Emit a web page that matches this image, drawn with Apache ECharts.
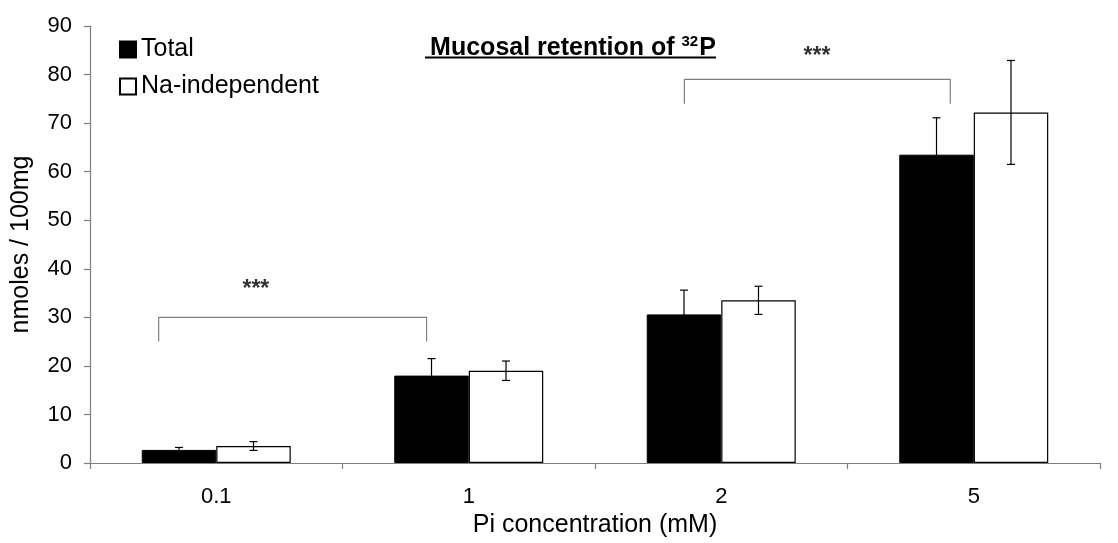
<!DOCTYPE html>
<html>
<head>
<meta charset="utf-8">
<script src="https://cdn.jsdelivr.net/npm/echarts@6/dist/echarts.min.js"></script>
<style>
html,body{margin:0;padding:0;background:#fff;}
#chart{width:1118px;height:543px;}
</style>
</head>
<body>
<div id="chart"></div>
<script>
// ---- data ----
const categories = ['0.1', '1', '2', '5'];
const totalValues = [2.7, 18.0, 30.6, 63.5];
const totalErrors = [0.5, 3.5, 5.0, 7.6];
const naValues = [3.5, 19.0, 33.5, 72.2];
const naErrors = [0.9, 2.0, 2.9, 10.7];
const seriesNames = ['Total', 'Na-independent'];
const yTicks = [0, 10, 20, 30, 40, 50, 60, 70, 80, 90];
// significance brackets: [x, y] in category units / data units
const bracket1 = [[-0.228, 25], [-0.228, 30], [0.833, 30], [0.833, 25]];
const bracket2 = [[1.854, 74], [1.854, 79], [2.907, 79], [2.907, 74]];
const starPoints = [[0.157, 35.8], [2.379, 83.6]];

const FONT = '"Liberation Sans", Arial, sans-serif';
const AXIS_COLOR = '#7f7f7f';
const BAR_GAP_CAT = 0.41;

const chart = echarts.init(document.getElementById('chart'), null, {renderer: 'canvas'});

function errorRender(seriesIdx, values, errors) {
  return function (params, api) {
    const i = api.value(0);
    const v = values[i], e = errors[i];
    const band = api.size([1, 0])[0];
    const barW = band * (1 - BAR_GAP_CAT) / 2;
    const c = api.coord([i, v]);
    const x = c[0] + (seriesIdx - 0.5) * barW;
    const top = api.coord([i, v + e])[1];
    const bot = api.coord([i, v - e])[1];
    const hw = 4;
    const st = {stroke: '#000', lineWidth: 1.2};
    return {
      type: 'group',
      children: [
        {type: 'line', shape: {x1: x, y1: top, x2: x, y2: bot}, style: st},
        {type: 'line', shape: {x1: x - hw, y1: top, x2: x + hw, y2: top}, style: st},
        {type: 'line', shape: {x1: x - hw, y1: bot, x2: x + hw, y2: bot}, style: st}
      ]
    };
  };
}

const option = {
  animation: false,
  backgroundColor: '#fff',
  textStyle: {fontFamily: FONT},
  title: {
    text: '{a|Mucosal retention of }{s|32}{a|P}',
    left: 568,
    textAlign: 'center',
    top: 29,
    textStyle: {
      rich: {
        a: {fontFamily: FONT, fontWeight: 'bold', fontSize: 25, color: '#000'},
        s: {fontFamily: FONT, fontWeight: 'bold', fontSize: 15, color: '#000', padding: [0, 1, 14, 0]}
      }
    }
  },
  graphic: [
    {type: 'line', shape: {x1: 425, y1: 57.5, x2: 716, y2: 57.5}, style: {stroke: '#000', lineWidth: 2.2}}
  ],
  legend: {
    orient: 'vertical',
    left: 114,
    top: 32,
    itemWidth: 16,
    itemHeight: 16,
    itemGap: 12,
    icon: 'rect',
    data: seriesNames,
    textStyle: {fontFamily: FONT, fontSize: 25, color: '#000'}
  },
  grid: {left: 90, right: 18, top: 26, bottom: 78.5, containLabel: false},
  xAxis: [
    {
      type: 'category',
      data: categories,
      name: 'Pi concentration (mM)',
      nameLocation: 'middle',
      nameGap: 50,
      nameTextStyle: {fontFamily: FONT, fontSize: 25, color: '#000'},
      axisLine: {lineStyle: {color: AXIS_COLOR, width: 1.2}},
      axisTick: {show: true, length: 6, inside: false, lineStyle: {color: AXIS_COLOR, width: 1.2}},
      axisLabel: {fontFamily: FONT, fontSize: 22, color: '#000', margin: 23},
      splitLine: {show: false}
    },
    {
      type: 'value',
      min: -0.5,
      max: 3.5,
      show: false
    }
  ],
  yAxis: {
    type: 'value',
    min: 0,
    max: 90,
    interval: 10,
    name: 'nmoles / 100mg',
    nameLocation: 'middle',
    nameGap: 56,
    nameTextStyle: {fontFamily: FONT, fontSize: 25, color: '#000'},
    axisLine: {show: true, onZero: false, lineStyle: {color: AXIS_COLOR, width: 1.2}},
    axisTick: {show: true, length: 6, lineStyle: {color: AXIS_COLOR, width: 1.2}},
    axisLabel: {fontFamily: FONT, fontSize: 22, color: '#000', margin: 18,
      formatter: function (v) { return yTicks.indexOf(v) >= 0 ? String(v) : ''; }},
    splitLine: {show: false}
  },
  series: [
    {
      name: seriesNames[0],
      type: 'bar',
      data: totalValues,
      barGap: '0%',
      barCategoryGap: (BAR_GAP_CAT * 100) + '%',
      itemStyle: {color: '#000', borderColor: '#000', borderWidth: 1}
    },
    {
      name: seriesNames[1],
      type: 'bar',
      data: naValues,
      barGap: '0%',
      barCategoryGap: (BAR_GAP_CAT * 100) + '%',
      itemStyle: {color: '#fff', borderColor: '#000', borderWidth: 1.2}
    },
    {
      type: 'custom',
      renderItem: errorRender(0, totalValues, totalErrors),
      data: categories.map((c, i) => [i]),
      z: 5,
      silent: true
    },
    {
      type: 'custom',
      renderItem: errorRender(1, naValues, naErrors),
      data: categories.map((c, i) => [i]),
      z: 5,
      silent: true
    },
    {
      type: 'line',
      xAxisIndex: 1,
      data: bracket1,
      symbol: 'none',
      lineStyle: {color: AXIS_COLOR, width: 1.2},
      silent: true
    },
    {
      type: 'line',
      xAxisIndex: 1,
      data: bracket2,
      symbol: 'none',
      lineStyle: {color: AXIS_COLOR, width: 1.2},
      silent: true
    },
    {
      type: 'scatter',
      xAxisIndex: 1,
      data: starPoints,
      symbolSize: 0,
      label: {show: true, position: 'inside', formatter: '***', fontFamily: FONT, fontSize: 23, fontWeight: 'bold', color: '#000'},
      silent: true
    }
  ]
};
chart.setOption(option);
</script>
</body>
</html>
